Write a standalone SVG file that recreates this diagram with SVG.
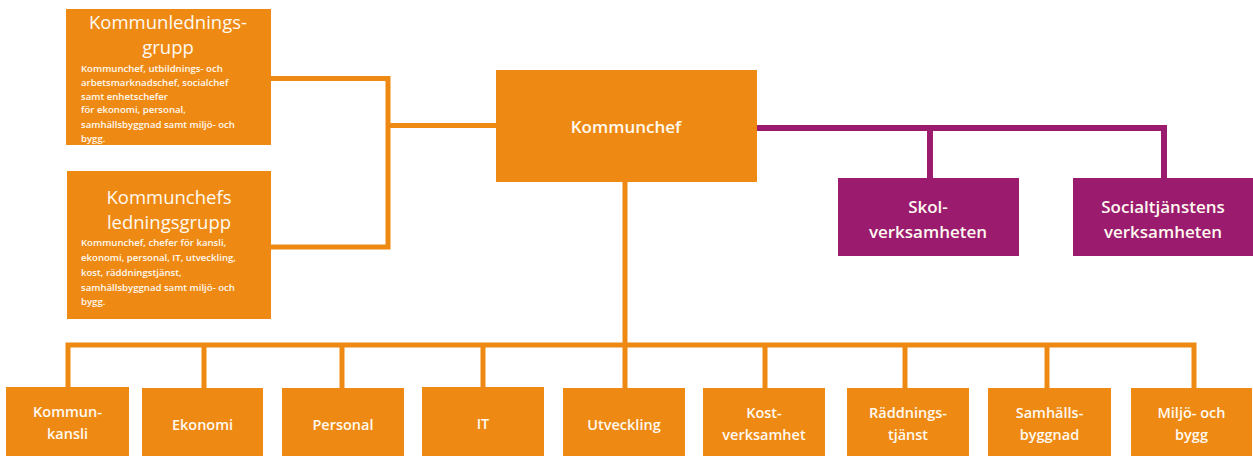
<svg xmlns="http://www.w3.org/2000/svg" width="1253" height="456" viewBox="0 0 1253 456">
<style>
.o{fill:#EE8A14}
.p{fill:#9B1B6F}
.lo{stroke:#EE8A14;stroke-width:5;fill:none}
.lp{stroke:#9B1B6F;stroke-width:6;fill:none}
text{font-family:"Open Sans","Liberation Sans",sans-serif;fill:#FFF9F0;text-anchor:middle}
.t{font-size:18.5px}
.b{font-size:9.6px;font-weight:600;text-anchor:start}
.m{font-size:17px;font-weight:600}
.s{font-size:14.5px;font-weight:600}
</style>
<rect width="1253" height="456" fill="#fff"/>
<g id="connectors">
<polyline class="lo" points="271,78.5 388,78.5 388,247 271,247"/>
<line class="lo" x1="388" y1="125.5" x2="496" y2="125.5"/>
<line class="lo" x1="625" y1="182" x2="625" y2="388"/>
<polyline class="lo" points="68,388 68,345 1194,345 1194,388"/>
<line class="lo" x1="204" y1="345" x2="204" y2="388"/>
<line class="lo" x1="342" y1="345" x2="342" y2="388"/>
<line class="lo" x1="483" y1="345" x2="483" y2="388"/>
<line class="lo" x1="765" y1="345" x2="765" y2="388"/>
<line class="lo" x1="905" y1="345" x2="905" y2="388"/>
<line class="lo" x1="1047" y1="345" x2="1047" y2="388"/>
<polyline class="lp" points="757,128 1164,128 1164,178"/>
<line class="lp" x1="930" y1="128" x2="930" y2="178"/>
</g>
<g id="kommunledningsgrupp">
<rect class="o" x="66" y="9" width="205" height="136"/>
<text class="t" x="168" y="29">Kommunlednings-</text>
<text class="t" x="168" y="54">grupp</text>
<text class="b" x="81" y="71.5">Kommunchef, utbildnings- och</text>
<text class="b" x="81" y="85.5">arbetsmarknadschef, socialchef</text>
<text class="b" x="81" y="99.5">samt enhetschefer</text>
<text class="b" x="81" y="113">för ekonomi, personal,</text>
<text class="b" x="81" y="127.5">samhällsbyggnad samt miljö- och</text>
<text class="b" x="81" y="141.5">bygg.</text>
</g>
<g id="kommunchefs-ledningsgrupp">
<rect class="o" x="67" y="171" width="204" height="148"/>
<text class="t" x="169" y="204">Kommunchefs</text>
<text class="t" x="169" y="229">ledningsgrupp</text>
<text class="b" x="81" y="245.5">Kommunchef, chefer för kansli,</text>
<text class="b" x="81" y="260.5">ekonomi, personal, IT, utveckling,</text>
<text class="b" x="81" y="275.5">kost, räddningstjänst,</text>
<text class="b" x="81" y="290.5">samhällsbyggnad samt miljö- och</text>
<text class="b" x="81" y="304.5">bygg.</text>
</g>
<g id="kommunchef">
<rect class="o" x="496" y="70" width="261" height="112"/>
<text class="m" x="626" y="133">Kommunchef</text>
</g>
<g id="skolverksamheten">
<rect class="p" x="838" y="178" width="181" height="78"/>
<text class="m" x="928" y="213">Skol-</text>
<text class="m" x="928" y="238">verksamheten</text>
</g>
<g id="socialtjanstens">
<rect class="p" x="1073" y="178" width="180" height="78"/>
<text class="m" x="1163" y="213">Socialtjänstens</text>
<text class="m" x="1163" y="238">verksamheten</text>
</g>
<g id="kommunkansli">
<rect class="o" x="6" y="387" width="123" height="75"/>
<text class="s" x="67.5" y="417">Kommun-</text>
<text class="s" x="67.5" y="439">kansli</text>
</g>
<g id="ekonomi">
<rect class="o" x="142" y="388" width="121" height="74"/>
<text class="s" x="202.5" y="430">Ekonomi</text>
</g>
<g id="personal">
<rect class="o" x="282" y="388" width="122" height="74"/>
<text class="s" x="343" y="430">Personal</text>
</g>
<g id="it">
<rect class="o" x="422" y="387" width="122" height="75"/>
<text class="s" x="483" y="429">IT</text>
</g>
<g id="utveckling">
<rect class="o" x="563" y="388" width="122" height="74"/>
<text class="s" x="624" y="430">Utveckling</text>
</g>
<g id="kostverksamhet">
<rect class="o" x="703" y="388" width="122" height="74"/>
<text class="s" x="764" y="418">Kost-</text>
<text class="s" x="764" y="440">verksamhet</text>
</g>
<g id="raddningstjanst">
<rect class="o" x="847" y="388" width="122" height="74"/>
<text class="s" x="908" y="418">Räddnings-</text>
<text class="s" x="908" y="440">tjänst</text>
</g>
<g id="samhallsbyggnad">
<rect class="o" x="988" y="388" width="123" height="74"/>
<text class="s" x="1049.5" y="418">Samhälls-</text>
<text class="s" x="1049.5" y="440">byggnad</text>
</g>
<g id="miljo-och-bygg">
<rect class="o" x="1131" y="388" width="121" height="74"/>
<text class="s" x="1191.5" y="418">Miljö- och</text>
<text class="s" x="1191.5" y="440">bygg</text>
</g>
</svg>
